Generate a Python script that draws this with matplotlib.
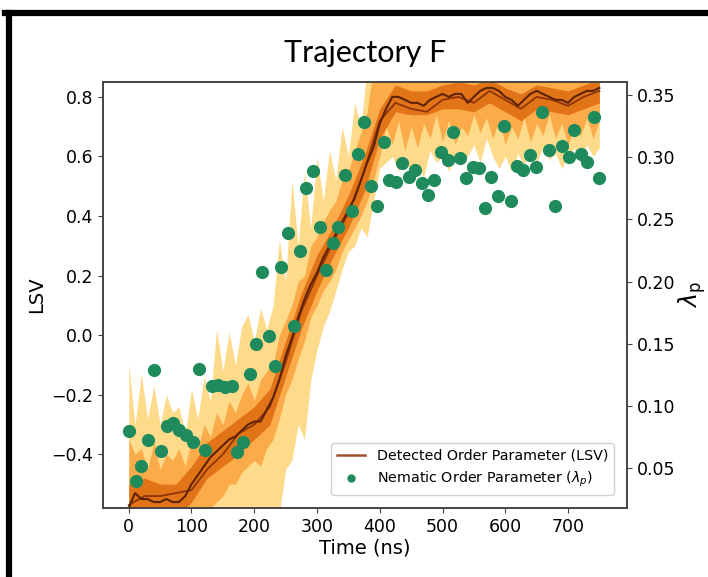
import matplotlib.pyplot as plt
import numpy as np
from matplotlib.lines import Line2D

# time grids (ns)
t = np.arange(0, 760, 10)
t_band = np.arange(0, 775, 25)

# detected order parameter (LSV), dark brown mean line
lsv_mean = [-0.58, -0.53, -0.55, -0.55, -0.56, -0.56, -0.55, -0.56, -0.56, -0.54,
            -0.50, -0.47, -0.44, -0.41, -0.39, -0.37, -0.35, -0.34, -0.32, -0.30,
            -0.29, -0.29, -0.25, -0.21, -0.15, -0.07, -0.01, 0.06, 0.12, 0.17,
            0.21, 0.26, 0.30, 0.34, 0.38, 0.42, 0.46, 0.52, 0.58, 0.63,
            0.71, 0.76, 0.80, 0.80, 0.79, 0.78, 0.78, 0.77, 0.79, 0.80,
            0.81, 0.80, 0.81, 0.81, 0.78, 0.80, 0.82, 0.83, 0.83, 0.82,
            0.80, 0.79, 0.77, 0.79, 0.81, 0.82, 0.81, 0.80, 0.79, 0.79,
            0.78, 0.80, 0.81, 0.82, 0.82, 0.83]

lsv_alt = [-0.57, -0.54, -0.54, -0.53, -0.52, -0.45, -0.40, -0.33, -0.30, -0.24,
           -0.09, 0.08, 0.20, 0.31, 0.41, 0.55, 0.72, 0.78, 0.76, 0.75,
           0.79, 0.80, 0.78, 0.82, 0.79, 0.76, 0.80, 0.79, 0.77, 0.80, 0.82]

# light yellow spread
light_hi = [-0.10, -0.30, -0.13, -0.28, -0.17, -0.30, -0.20, -0.26, -0.24, -0.33,
            -0.18, -0.28, -0.14, -0.22, 0.02, -0.12, 0.01, -0.10, 0.03, 0.07,
            -0.02, 0.09, 0.02, 0.10, 0.32, 0.18, 0.52, 0.30, 0.55, 0.36,
            0.60, 0.45, 0.62, 0.52, 0.70, 0.60, 0.78, 0.70, 0.90, 0.90,
            0.90, 0.90, 0.90, 0.90, 0.90, 0.90, 0.90, 0.90, 0.90, 0.90,
            0.90, 0.90, 0.90, 0.90, 0.90, 0.90, 0.90, 0.90, 0.90, 0.90,
            0.90, 0.90, 0.90, 0.90, 0.90, 0.90, 0.90, 0.90, 0.90, 0.90,
            0.90, 0.90, 0.90, 0.90, 0.90, 0.90]
light_lo = [-0.65, -0.65, -0.65, -0.65, -0.65, -0.65, -0.65, -0.65, -0.65, -0.65,
            -0.65, -0.65, -0.65, -0.65, -0.65, -0.65, -0.65, -0.65, -0.65, -0.65,
            -0.65, -0.65, -0.65, -0.65, -0.60, -0.45, -0.42, -0.30, -0.35, -0.15,
            -0.05, 0.03, 0.08, 0.15, 0.22, 0.28, 0.30, 0.36, 0.33, 0.45,
            0.56, 0.58, 0.60, 0.55, 0.60, 0.54, 0.57, 0.53, 0.62, 0.58,
            0.60, 0.55, 0.61, 0.57, 0.60, 0.64, 0.58, 0.66, 0.60, 0.56,
            0.60, 0.55, 0.61, 0.57, 0.62, 0.58, 0.63, 0.59, 0.61, 0.56,
            0.60, 0.63, 0.58, 0.64, 0.60, 0.63]

# orange spread
mid_hi = [-0.35, -0.40, -0.38, -0.45, -0.36, -0.45, -0.40, -0.42, -0.38, -0.44,
          -0.35, -0.38, -0.30, -0.34, -0.26, -0.30, -0.22, -0.26, -0.20, -0.16,
          -0.22, -0.15, -0.12, -0.10, 0.00, 0.05, 0.10, 0.18, 0.20, 0.30,
          0.33, 0.38, 0.42, 0.45, 0.52, 0.55, 0.62, 0.68, 0.75, 0.90,
          0.90, 0.90, 0.90, 0.90, 0.90, 0.90, 0.90, 0.90, 0.90, 0.90,
          0.90, 0.90, 0.90, 0.90, 0.90, 0.90, 0.90, 0.90, 0.90, 0.90,
          0.90, 0.90, 0.90, 0.90, 0.90, 0.90, 0.90, 0.90, 0.90, 0.90,
          0.90, 0.90, 0.90, 0.90, 0.90, 0.90]
mid_lo = [-0.65, -0.65, -0.65, -0.65, -0.65, -0.65, -0.65, -0.65, -0.65, -0.65,
          -0.65, -0.62, -0.60, -0.58, -0.56, -0.54, -0.50, -0.50, -0.46, -0.44,
          -0.42, -0.44, -0.38, -0.35, -0.28, -0.20, -0.15, -0.08, -0.02, 0.06,
          0.10, 0.15, 0.18, 0.22, 0.28, 0.32, 0.36, 0.40, 0.45, 0.52,
          0.60, 0.70, 0.64, 0.72, 0.62, 0.70, 0.63, 0.71, 0.66, 0.74,
          0.65, 0.72, 0.64, 0.70, 0.67, 0.74, 0.68, 0.73, 0.66, 0.72,
          0.64, 0.70, 0.66, 0.73, 0.65, 0.71, 0.67, 0.74, 0.66, 0.71,
          0.64, 0.70, 0.67, 0.73, 0.66, 0.72]

# dark orange core
dark_hi = [-0.50, -0.48, -0.50, -0.50, -0.44, -0.36, -0.32, -0.28, -0.24, -0.18,
           -0.02, 0.14, 0.27, 0.36, 0.47, 0.60, 0.76, 0.84, 0.82, 0.82,
           0.84, 0.85, 0.84, 0.86, 0.83, 0.81, 0.84, 0.83, 0.82, 0.84, 0.86]
dark_lo = [-0.62, -0.62, -0.62, -0.62, -0.56, -0.48, -0.44, -0.40, -0.35, -0.30,
           -0.14, 0.02, 0.15, 0.26, 0.36, 0.48, 0.66, 0.75, 0.74, 0.74,
           0.76, 0.76, 0.75, 0.78, 0.75, 0.72, 0.76, 0.75, 0.74, 0.76, 0.78]

# nematic order parameter lambda_p
t_lam = [0, 11, 20, 31, 40, 51, 61, 71, 80, 92,
         102, 112, 122, 132, 142, 153, 164, 172, 182, 193,
         203, 213, 223, 233, 243, 254, 264, 273, 283, 294,
         304, 314, 325, 334, 344, 356, 366, 375, 386, 396,
         406, 415, 426, 436, 447, 456, 467, 477, 487, 498,
         508, 517, 528, 537, 548, 558, 568, 578, 588, 598,
         609, 618, 629, 640, 649, 659, 670, 679, 690, 701,
         710, 720, 731, 741, 750]
lam_p = [0.080, 0.040, 0.052, 0.073, 0.129, 0.064, 0.084, 0.086, 0.081, 0.077,
         0.071, 0.130, 0.065, 0.116, 0.117, 0.115, 0.116, 0.063, 0.071, 0.126,
         0.150, 0.208, 0.156, 0.132, 0.212, 0.239, 0.164, 0.225, 0.275, 0.289,
         0.244, 0.209, 0.231, 0.244, 0.286, 0.257, 0.303, 0.328, 0.277, 0.261,
         0.312, 0.282, 0.280, 0.295, 0.284, 0.290, 0.279, 0.270, 0.282, 0.304,
         0.298, 0.320, 0.299, 0.283, 0.292, 0.291, 0.259, 0.284, 0.269, 0.325,
         0.265, 0.293, 0.290, 0.302, 0.292, 0.336, 0.306, 0.261, 0.309, 0.300,
         0.322, 0.303, 0.296, 0.332, 0.283]

fig = plt.figure(figsize=(7.08, 5.77), dpi=100)
ax = fig.add_axes([0.1455, 0.1196, 0.7401, 0.7383])

ax.fill_between(t, light_lo, light_hi, color='#fedb8b', lw=0)
ax.fill_between(t, mid_lo, mid_hi, color='#fcab4a', lw=0)
ax.fill_between(t_band, dark_lo, dark_hi, color='#e27418', lw=0)
ax.plot(t_band, lsv_alt, color='#8e3508', lw=1.3)
ax.plot(t, lsv_mean, color='#5e2206', lw=1.5)

ax.set_xlim(-41, 794)
ax.set_ylim(-0.58, 0.85)
ax.set_xticks([0, 100, 200, 300, 400, 500, 600, 700])
ax.set_yticks([-0.4, -0.2, 0.0, 0.2, 0.4, 0.6, 0.8])
ax.set_xlabel('Time (ns)', fontsize=14, labelpad=2)
ax.set_ylabel('LSV', fontsize=14)
ax.tick_params(labelsize=12.5, color='#444444')

ax2 = ax.twinx()
ax2.scatter(t_lam, lam_p, s=72, color='#1f8b5c', zorder=3)
ax2.set_ylim(0.018, 0.3605)
ax2.set_yticks([0.05, 0.10, 0.15, 0.20, 0.25, 0.30, 0.35])
ax2.set_ylabel(r'$\lambda_{\rm p}$', fontsize=17, labelpad=1)
ax2.tick_params(labelsize=12.5, color='#444444')

for a in (ax, ax2):
    for sp in a.spines.values():
        sp.set_color('#444444')
        sp.set_linewidth(1.2)

handles = [Line2D([], [], color='#a0512e', lw=1.8),
           Line2D([], [], marker='o', ls='', color='#1f8b5c', markersize=5)]
labels = ['Detected Order Parameter (LSV)', r'Nematic Order Parameter ($\lambda_p$)']
ax2.legend(handles, labels, loc='lower right', fontsize=10.3, framealpha=0.9,
           borderaxespad=0.9, handlelength=2.0)

fig.text(0.5155, 0.908, 'Trajectory F', fontsize=22, family='Lato',
         ha='center', va='center')

# black frame of the original panel
fig.add_artist(Line2D([0.007, 1.0], [0.977, 0.977], color='black', lw=4.5,
                      transform=fig.transFigure))
fig.add_artist(Line2D([0.013, 0.013], [0.0, 0.977], color='black', lw=4.5,
                      transform=fig.transFigure))

fig.savefig('out.png', dpi=100)
